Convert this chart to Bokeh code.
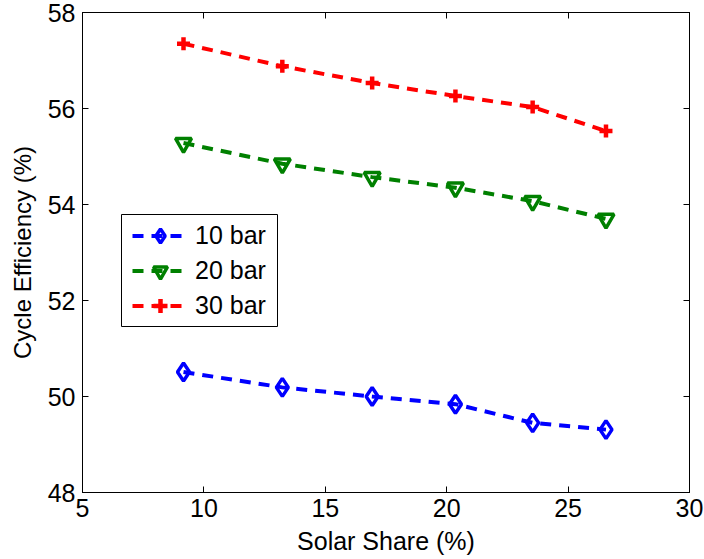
from bokeh.plotting import figure
from bokeh.models import LinearAxis, Range1d, Legend, LegendItem, FixedTicker, BoxAnnotation
from bokeh.embed import file_html
from bokeh.resources import INLINE

solar_share = [9.16, 13.23, 16.93, 20.36, 23.54, 26.56]
eff_10bar = [50.51, 50.19, 50.00, 49.84, 49.45, 49.31]
eff_20bar = [55.28, 54.85, 54.57, 54.35, 54.07, 53.70]
eff_30bar = [57.35, 56.88, 56.53, 56.26, 56.03, 55.53]
series_names = ["10 bar", "20 bar", "30 bar"]
x_ticks = [5, 10, 15, 20, 25, 30]
y_ticks = [48, 50, 52, 54, 56, 58]

FONT = "Liberation Sans"

p = figure(width=704, height=559, output_backend="svg", toolbar_location=None,
           x_range=Range1d(5, 30), y_range=Range1d(48, 58),
           min_border_left=82, min_border_right=15, min_border_top=12, min_border_bottom=67)
p.background_fill_color = "white"
p.border_fill_color = "white"
p.outline_line_color = "black"
p.outline_line_width = 1
p.xgrid.visible = False
p.ygrid.visible = False

def style_axis(ax, ticks, show_labels):
    ax.ticker = FixedTicker(ticks=ticks)
    ax.minor_tick_line_color = None
    ax.major_tick_in = 6
    ax.major_tick_out = 0
    ax.axis_line_color = "black"
    ax.major_tick_line_color = "black"
    if show_labels:
        ax.major_label_text_font = FONT
        ax.major_label_text_font_size = "25px"
        ax.major_label_text_color = "black"
        ax.axis_label_text_font = FONT
        ax.axis_label_text_font_size = "24px"
        ax.axis_label_text_font_style = "normal"
        ax.axis_label_text_color = "black"
    else:
        ax.major_label_text_font_size = "0px"
        ax.major_label_text_alpha = 0

style_axis(p.xaxis[0], x_ticks, True)
style_axis(p.yaxis[0], y_ticks, True)
p.xaxis[0].axis_label = "Solar Share (%)"
p.yaxis[0].axis_label = "Cycle Efficiency (%)"
p.xaxis[0].axis_label_text_font_size = "25px"
p.xaxis[0].major_label_standoff = 6
p.yaxis[0].major_label_standoff = 7
p.xaxis[0].axis_label_standoff = 7
p.yaxis[0].axis_label_standoff = 9

top = LinearAxis()
right = LinearAxis()
style_axis(top, x_ticks, False)
style_axis(right, y_ticks, False)
top.major_label_standoff = 0
right.major_label_standoff = 0
p.add_layout(top, "above")
p.add_layout(right, "right")

dash = "11 8"
l1 = p.line(solar_share, eff_10bar, line_color="blue", line_width=4, line_dash=dash)
m1 = p.scatter(solar_share, eff_10bar, marker="diamond", size=18, fill_color=None,
               line_color="blue", line_width=3.5)
l2 = p.line(solar_share, eff_20bar, line_color="green", line_width=4, line_dash=dash)
m2 = p.scatter(solar_share, eff_20bar, marker="inverted_triangle", size=16, fill_color=None,
               line_color="green", line_width=3.5)
l3 = p.line(solar_share, eff_30bar, line_color="red", line_width=4, line_dash=dash)
m3 = p.scatter(solar_share, eff_30bar, marker="cross", size=13,
               line_color="red", line_width=4.5)

# legend frame (drawn behind the legend entries)
box = BoxAnnotation(left=121, right=277, top=214, bottom=326,
                    left_units="canvas", right_units="canvas",
                    top_units="canvas", bottom_units="canvas",
                    fill_color="white", fill_alpha=1,
                    line_color="black", line_width=1, line_alpha=1)
p.add_layout(box)

legend = Legend(items=[
    LegendItem(label=series_names[0], renderers=[l1, m1]),
    LegendItem(label=series_names[1], renderers=[l2, m2]),
    LegendItem(label=series_names[2], renderers=[l3, m3]),
], location=(50, 169))
legend.border_line_color = None
legend.background_fill_alpha = 0
legend.label_text_font = FONT
legend.label_text_font_size = "25px"
legend.label_text_color = "black"
legend.glyph_width = 56
legend.glyph_height = 35
legend.label_height = 35
legend.label_standoff = 7
legend.spacing = 0
legend.padding = 0
legend.margin = 0
p.add_layout(legend, "center")

open("out.html", "w").write(file_html(p, INLINE))
